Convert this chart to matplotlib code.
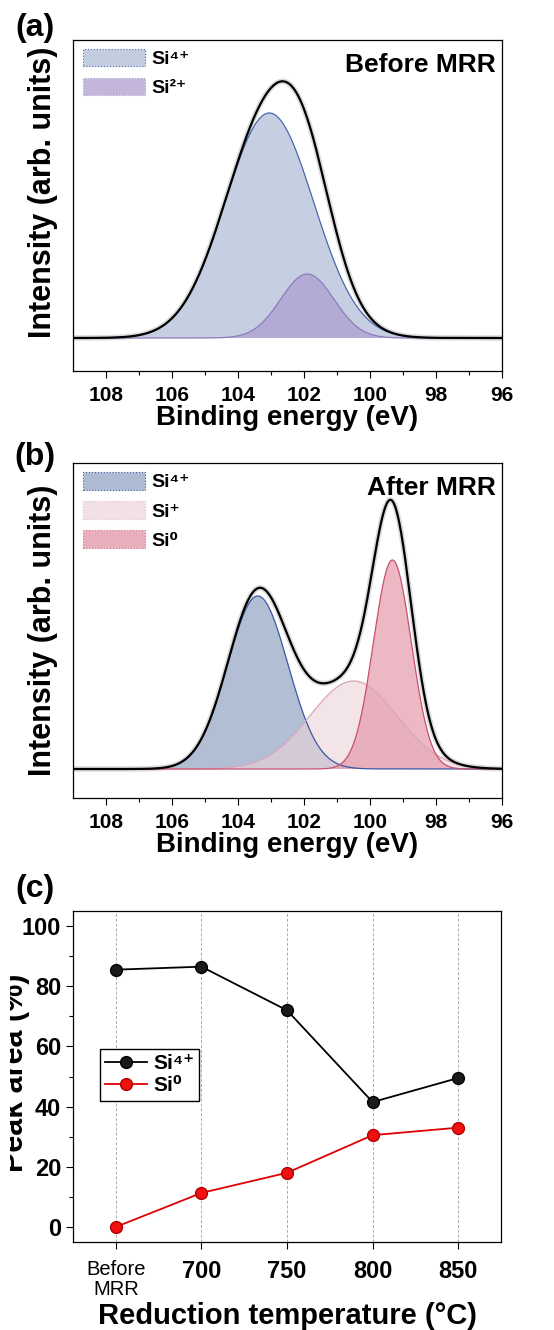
import numpy as np
import matplotlib
matplotlib.use("Agg")
import matplotlib.pyplot as plt
from matplotlib.patches import Patch, Rectangle

plt.rcParams['font.family'] = ['Liberation Sans', 'DejaVu Sans']
plt.rcParams['font.weight'] = 'bold'

# (a) before MRR: peak centre (eV), height (a.u.), FWHM (eV)
a_names = ['Si⁴⁺', 'Si²⁺']
a_center = [103.05, 101.9]
a_height = [225, 64]
a_fwhm = [3.15, 1.9]

# (b) after MRR
b_names = ['Si⁴⁺', 'Si⁺', 'Si⁰']
b_center = [103.4, 100.5, 99.32]
b_height = [173, 88, 209]
b_fwhm = [2.15, 3.1, 1.35]

# (c) peak area vs reduction temperature
temps = ['Before\nMRR', '700', '750', '800', '850']
si4 = [85.5, 86.5, 72.0, 41.5, 49.5]
si0 = [0.0, 11.3, 18.0, 30.5, 33.0]

def gauss(x, c, h, w):
    s = w / 2.3548
    return h * np.exp(-(x - c) ** 2 / (2 * s ** 2))

fig = plt.figure(figsize=(5.54, 13.30), dpi=100)
L, W = 73/554, 429/554
ax_a = fig.add_axes([L, 1-371/1330, W, 331/1330])
ax_b = fig.add_axes([L, 1-798/1330, W, 335/1330])
ax_c = fig.add_axes([L, 1-1242/1330, 428/554, 331/1330])

x = np.linspace(96, 109, 800)

def spectrum(ax, centers, heights, fwhms, fills, edges, alphas, names, ylim, tag, ylab_y):
    comps = [gauss(x, c, h, w) for c, h, w in zip(centers, heights, fwhms)]
    for y, fc, ec, al in zip(comps, fills, edges, alphas):
        ax.fill_between(x, 0, y, facecolor=fc, alpha=al, edgecolor='none', zorder=2)
        ax.plot(x, y, color=ec, lw=0.9, zorder=3)
    env = np.sum(comps, axis=0)
    ax.plot(x, env, color='#dcdcdc', lw=4, zorder=1)
    ax.plot(x, env, color='black', lw=1.6, zorder=4)
    ax.set_xlim(109, 96)
    ax.set_ylim(*ylim)
    ax.set_yticks([])
    ax.set_xticks(np.arange(96, 109, 2))
    ax.set_xticks(np.arange(97, 109, 2), minor=True)
    ax.tick_params(axis='x', which='major', length=5, width=0.8, labelsize=15, pad=6)
    ax.tick_params(axis='x', which='minor', length=3, width=0.8)
    for lab in ax.get_xticklabels():
        lab.set_fontweight('bold')
    ax.set_xlabel('Binding energy (eV)', fontsize=20, fontweight='bold', labelpad=0)
    ax.set_ylabel('Intensity (arb. units)', fontsize=22, fontweight='bold')
    ax.yaxis.set_label_coords(-15/429, ylab_y)
    for sp in ax.spines.values():
        sp.set_linewidth(0.9)
    handles = [Patch(facecolor=fc, edgecolor=ec, alpha=min(1, al+0.1), lw=0.8, ls=':')
               for fc, ec, al in zip(fills, edges, alphas)]
    ax.legend(handles, names, loc='upper left', bbox_to_anchor=(10/429, 1-9/331),
              frameon=False, fontsize=14, handlelength=3.2, handleheight=1.0,
              labelspacing=0.5, borderpad=0, borderaxespad=0, handletextpad=0.3)
    ax.text(0.985, 0.96, tag, transform=ax.transAxes, ha='right', va='top',
            fontsize=19, fontweight='bold')

spectrum(ax_a, a_center, a_height, a_fwhm,
         ['#c3cde0', '#a58fc9'], ['#4a68ad', '#8c7cbf'], [0.95, 0.55],
         a_names, (-33, 298), 'Before MRR', 0.54)
spectrum(ax_b, b_center, b_height, b_fwhm,
         ['#aebbd2', '#ecd3da', '#e49aaa'], ['#3a58a5', '#dba6b5', '#c8506c'], [0.95, 0.6, 0.7],
         b_names, (-29, 306), 'After MRR', 0.5)

# (c)
pos = np.arange(len(temps))
for p in pos:
    ax_c.axvline(p, color='#aaaaaa', lw=0.7, ls=(0, (3, 2)), zorder=0)
ax_c.plot(pos, si4, '-o', color='black', lw=1.3, ms=8.5, mfc='#1a1a1a', mec='black',
          label='Si⁴⁺', zorder=3)
ax_c.plot(pos, si0, '-o', color='#e00000', lw=1.3, ms=8.5, mfc='#f01010', mec='#b00000',
          label='Si⁰', zorder=3)
ax_c.set_xlim(-0.5, 4.5)
ax_c.set_ylim(-5, 105)
ax_c.set_xticks(pos)
ax_c.set_xticklabels(temps)
ax_c.set_yticks(np.arange(0, 101, 20))
ax_c.set_yticks(np.arange(10, 100, 20), minor=True)
ax_c.tick_params(axis='both', which='major', length=5, width=0.8, labelsize=17)
ax_c.tick_params(axis='x', which='major', pad=8)
ax_c.tick_params(axis='y', which='minor', length=3, width=0.8)
for lab in ax_c.get_yticklabels() + ax_c.get_xticklabels():
    lab.set_fontweight('bold')
first = ax_c.get_xticklabels()[0]
first.set_fontweight('normal')
first.set_fontsize(14.5)
first.set_linespacing(1.05)
for sp in ax_c.spines.values():
    sp.set_linewidth(0.9)
ax_c.set_xlabel('Reduction temperature (°C)', fontsize=21, fontweight='bold', labelpad=2)
leg = ax_c.legend(loc='upper left', bbox_to_anchor=(27/428, 1-138/331), fontsize=15,
                  frameon=True, fancybox=False, edgecolor='black', framealpha=1,
                  handlelength=2.0, borderpad=0.25, labelspacing=0.15, handletextpad=0.3,
                  borderaxespad=0)
leg.get_frame().set_linewidth(1.0)

fig.text(23/554, 1-1073/1330, 'Peak area (%)', rotation=90, rotation_mode='anchor',
         ha='center', va='baseline', fontsize=22, fontweight='bold')
# left part of this label is cut off in the original (only in panel c)
fig.patches.append(Rectangle((0, 1-1200/1330), 9.5/554, 250/1330, transform=fig.transFigure,
                             facecolor='white', edgecolor='none', zorder=10))

for lbl, yy in [('(a)', 28), ('(b)', 457), ('(c)', 889)]:
    fig.text(35/554, 1-yy/1330, lbl, ha='center', va='center', fontsize=23, fontweight='bold')

fig.savefig('out.png', dpi=100)
